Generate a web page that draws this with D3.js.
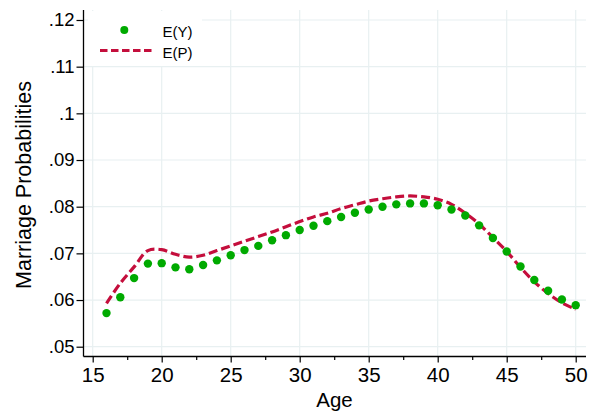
<!DOCTYPE html>
<html>
<head>
<meta charset="utf-8">
<script src="https://cdn.jsdelivr.net/npm/d3@7"></script>
<style>
  html, body { margin: 0; padding: 0; background: #fff; }
  svg { display: block; font-family: "Liberation Sans", Arial, Helvetica, sans-serif; }
</style>
</head>
<body>
<svg id="chart" width="589" height="415"></svg>
<script>
const ages = [16,17,18,19,20,21,22,23,24,25,26,27,28,29,30,31,32,33,34,35,36,37,38,39,40,41,42,43,44,45,46,47,48,49,50];
const eY = [0.0572,0.0606,0.0647,0.0678,0.0679,0.0670,0.0666,0.0675,0.0685,0.0696,0.0707,0.0716,0.0728,0.0739,0.0750,0.0759,0.0769,0.0778,0.0787,0.0794,0.0800,0.0805,0.0807,0.0807,0.0803,0.0794,0.0781,0.0760,0.0733,0.0704,0.0672,0.0643,0.0620,0.0601,0.0589];
const eP = [0.0593,0.0636,0.0671,0.0706,0.0708,0.0698,0.0692,0.0696,0.0706,0.0716,0.0726,0.0736,0.0746,0.0757,0.0768,0.0778,0.0786,0.0796,0.0804,0.0812,0.0817,0.0821,0.0823,0.0821,0.0816,0.0805,0.0786,0.0763,0.0734,0.0704,0.0670,0.0639,0.0614,0.0594,0.0580];
const xTicks = [15,20,25,30,35,40,45,50];
const xMinorTicks = [17.5,22.5,27.5,32.5,37.5,42.5,47.5];
const yTicks = [0.05,0.06,0.07,0.08,0.09,0.10,0.11,0.12];
const yTickLabels = [".05",".06",".07",".08",".09",".1",".11",".12"];
const seriesNames = ["E(Y)","E(P)"];
const xTitle = "Age";
const yTitle = "Marriage Probabilities";

(function () {
const colY = "rgb(0,170,0)";
const colP = "rgb(196,14,60)";
const gridCol = "#e8f0f1";

const svg = d3.select("#chart");
const x = d3.scaleLinear().domain([15,50]).range([92.7,575.7]);
const y = d3.scaleLinear().domain([0.05,0.12]).range([346.7,20]);
const pLeft = 83.5, pRight = 586, pTop = 10, pBottom = 356.5;

// grid
svg.append("g").selectAll("line").data(xTicks).join("line")
  .attr("x1", d => x(d)).attr("x2", d => x(d))
  .attr("y1", pTop).attr("y2", pBottom)
  .attr("stroke", gridCol).attr("stroke-width", 1.2);
svg.append("g").selectAll("line").data(yTicks).join("line")
  .attr("x1", pLeft).attr("x2", pRight)
  .attr("y1", d => y(d)).attr("y2", d => y(d))
  .attr("stroke", gridCol).attr("stroke-width", 1.2);

// legend box (covers grid)
const lg = svg.append("g");
lg.append("rect").attr("x", 88).attr("y", 11).attr("width", 114).attr("height", 55).attr("fill", "#fff");

// axes
const xAxis = d3.axisBottom(x).tickValues(xTicks).tickSize(6).tickSizeOuter(0).tickFormat(d3.format("d"));
const gx = svg.append("g").attr("transform", `translate(0,${pBottom})`).call(xAxis);
gx.select(".domain").attr("d", `M${pLeft},0H${pRight}`).attr("stroke", "#000").attr("stroke-width", 1.3);
gx.selectAll(".tick line").attr("stroke", "#000").attr("stroke-width", 1.2);
gx.selectAll(".tick text").attr("font-size", 20.5).attr("fill", "#000").attr("dy", null).attr("y", 25);
const xMinor = d3.axisBottom(x).tickValues(xMinorTicks).tickSize(3.5).tickSizeOuter(0).tickFormat("");
const gxm = svg.append("g").attr("transform", `translate(0,${pBottom})`).call(xMinor);
gxm.select(".domain").remove();
gxm.selectAll(".tick line").attr("stroke", "#000").attr("stroke-width", 1.2);

const yAxis = d3.axisLeft(y).tickValues(yTicks).tickSize(7).tickSizeOuter(0)
  .tickFormat((d,i) => yTickLabels[i]);
const gy = svg.append("g").attr("transform", `translate(${pLeft},0)`).call(yAxis);
gy.select(".domain").attr("d", `M0,${pTop}V${pBottom}`).attr("stroke", "#000").attr("stroke-width", 1.3);
gy.selectAll(".tick line").attr("stroke", "#000").attr("stroke-width", 1.2);
gy.selectAll(".tick text").attr("font-size", 18.5).attr("fill", "#000").attr("x", -9);

// titles
svg.append("text").attr("x", 334.5).attr("y", 407).attr("text-anchor", "middle")
  .attr("font-size", 20.5).attr("fill", "#000").text(xTitle);
svg.append("text").attr("transform", "translate(30.5,185) rotate(-90)").attr("text-anchor", "middle")
  .attr("font-size", 21.5).attr("fill", "#000").text(yTitle);

// E(P) dashed line
const line = d3.line().x((d,i) => x(ages[i])).y(d => y(d)).curve(d3.curveCatmullRom.alpha(0.5));
svg.append("path").datum(eP).attr("d", line).attr("fill", "none")
  .attr("stroke", colP).attr("stroke-width", 3.2).attr("stroke-dasharray", "9,4");

// E(Y) points
svg.append("g").selectAll("circle").data(eY).join("circle")
  .attr("cx", (d,i) => x(ages[i])).attr("cy", d => y(d)).attr("r", 4.2).attr("fill", colY);

// legend content
lg.append("circle").attr("cx", 124.3).attr("cy", 30).attr("r", 4).attr("fill", colY);
lg.append("line").attr("x1", 100).attr("x2", 154).attr("y1", 50.5).attr("y2", 50.5)
  .attr("stroke", colP).attr("stroke-width", 3.2).attr("stroke-dasharray", "7.5,3.5");
lg.append("text").attr("x", 162.5).attr("y", 36.7).attr("font-size", 15).attr("fill", "#000").text(seriesNames[0]);
lg.append("text").attr("x", 162.5).attr("y", 57.5).attr("font-size", 15).attr("fill", "#000").text(seriesNames[1]);
})();
</script>
</body>
</html>
